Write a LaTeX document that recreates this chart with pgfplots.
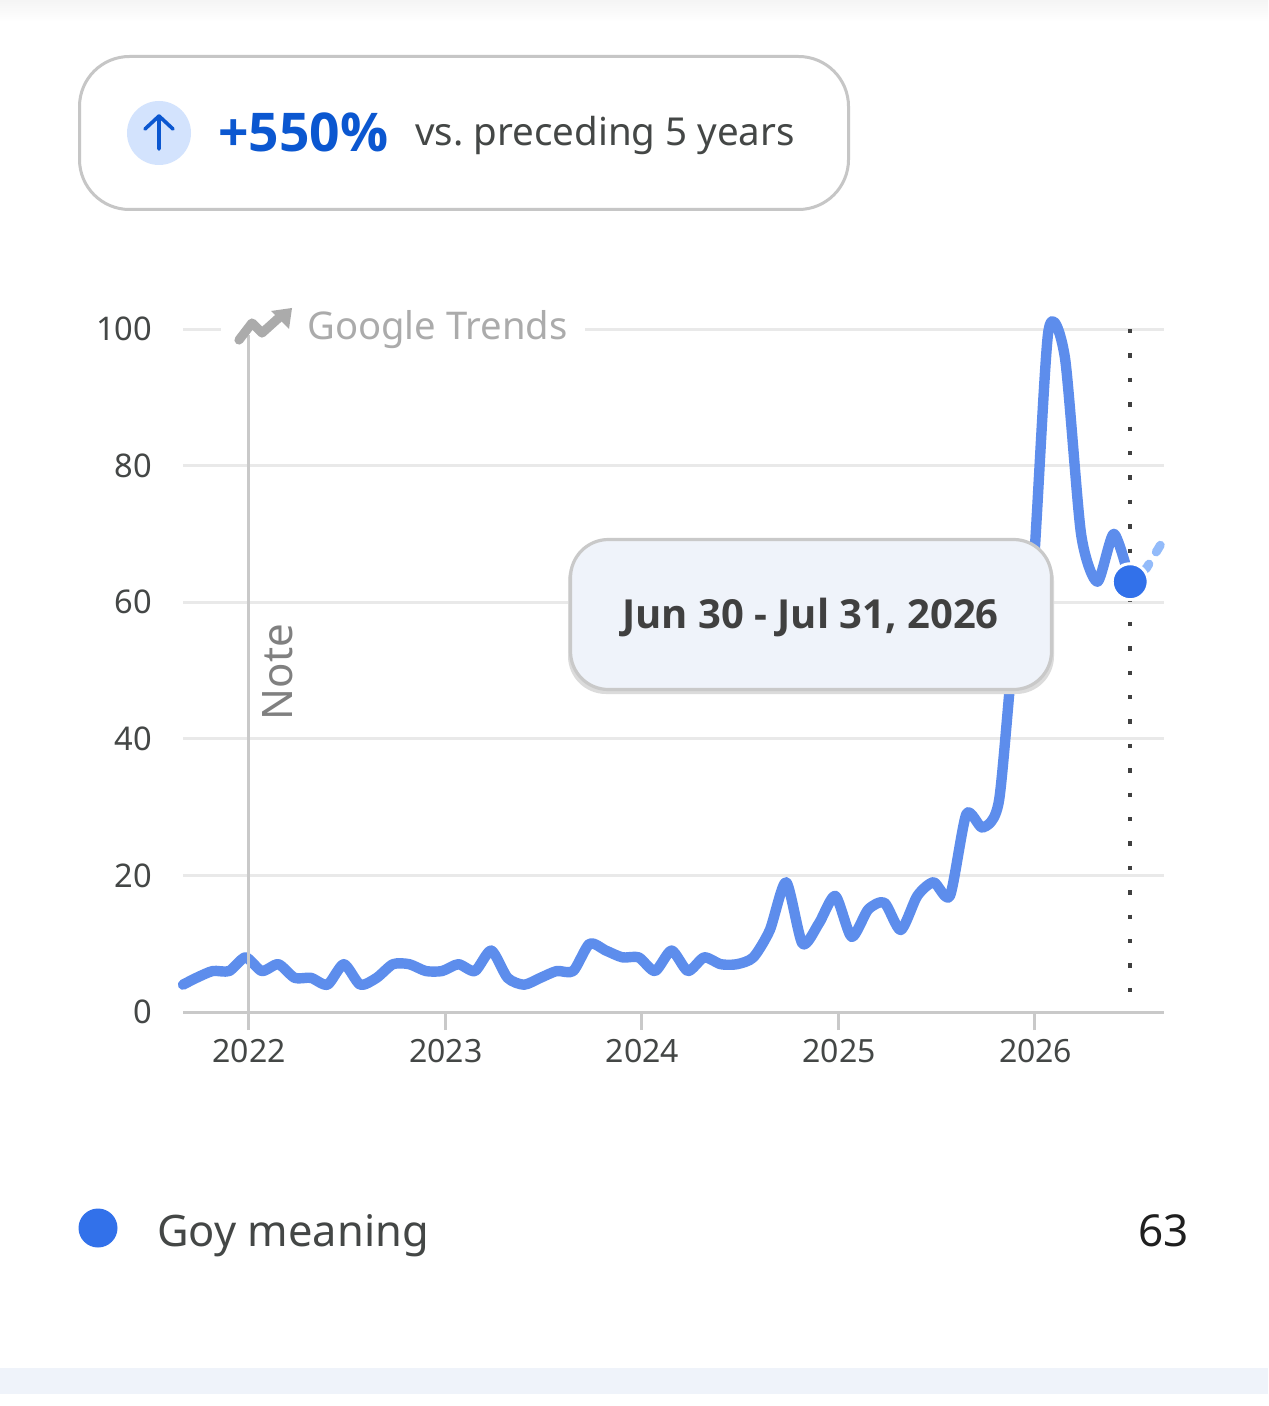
\documentclass[border=0pt]{standalone}
\usepackage{fontspec}
\setmainfont{Noto Sans}
\newfontfamily\bfam{Open Sans}
\usepackage{pgfplots}
\pgfplotsset{compat=1.18}
\definecolor{gridc}{HTML}{E9E9E9}
\definecolor{axisc}{HTML}{C9C9C9}
\definecolor{linec}{HTML}{5D8DEC}
\definecolor{dotc}{HTML}{3271EA}
\definecolor{dashc}{HTML}{93BBFA}
\definecolor{txt}{HTML}{444746}
\definecolor{gt}{HTML}{ABABAB}
\definecolor{tipbg}{HTML}{EFF3FA}
\definecolor{pillb}{HTML}{C6C6C6}
\definecolor{blueh}{HTML}{0B57D0}
\definecolor{circ}{HTML}{D3E3FD}
\pgfplotstableread{
x y
2021.667 4
2021.735 5
2021.818 6
2021.902 6
2021.985 8
2022.068 6
2022.152 7
2022.235 5
2022.318 5
2022.402 4
2022.485 7
2022.568 4
2022.652 5
2022.735 7
2022.818 7
2022.902 6
2022.985 6
2023.068 7
2023.152 6
2023.235 9
2023.318 5
2023.402 4
2023.485 5
2023.568 6
2023.652 6
2023.735 10
2023.818 9
2023.902 8
2023.985 8
2024.068 6
2024.152 9
2024.235 6
2024.318 8
2024.402 7
2024.485 7
2024.568 8
2024.652 12
2024.735 19
2024.818 10
2024.902 13
2024.985 17
2025.068 11
2025.152 15
2025.235 16
2025.318 12
2025.402 17
2025.485 19
2025.568 17
2025.652 29
2025.735 27
2025.818 31
2025.902 56
2025.985 62
2026.068 99.5
2026.152 96
2026.235 70
2026.318 63
2026.402 70
2026.485 63
}\trenddata
\pgfplotstableread{
x y
2026.485 63
2026.568 65
2026.652 69
}\partialdata
\newcommand{\fs}[1]{\fontsize{#1}{#1}\selectfont}
\frenchspacing
\begin{document}
\begin{tikzpicture}
\begin{scope}[x=0.5pt,y=-0.5pt]
\path[use as bounding box,fill=white] (0,0) rectangle (1268,1406);
\shade[top color=black!4,bottom color=white] (0,0) rectangle (1268,22);
\fill[tipbg] (0,1368) rectangle (1268,1394);
\draw[pillb,line width=1.5pt,rounded corners=25pt] (79.5,56.5) rectangle (848.5,209.5);
\fill[circ] (159,133) circle[radius=16pt];
\draw[blueh,line width=1.8pt,line cap=round,line join=round] (159,149) -- (159,116) (145,129) -- (159,116) -- (173,129);
\node[anchor=base west,inner sep=0,text=blueh] at (218,151.5) {\fs{26.7}\bfam\bfseries +550\%};
\node[anchor=base west,inner sep=0,text=txt] at (415,146) {\fs{19.25}vs. preceding 5 years};
\end{scope}
\begin{axis}[
  at={(91.5pt,-506pt)},anchor=south west,
  scale only axis,width=490.5pt,height=341.5pt,
  xmin=2021.667,xmax=2026.657,ymin=0,ymax=100,
  clip=false,
  axis lines=left,
  axis line style={-},
  y axis line style={draw=none},
  x axis line style={axisc,line width=1.5pt},
  xtick={2022,2023,2024,2025,2026},
  ytick={0,20,40,60,80,100},
  ymajorgrids,
  grid style={gridc,line width=1.5pt},
  xtick style={draw=axisc,line width=1.5pt},
  ytick style={draw=none},
  tick align=outside,
  major tick length=9pt,
  /pgf/number format/assume math mode=true,
  /pgf/number format/1000 sep={},
  xticklabel style={font=\fs{16},text=txt,yshift=-1pt,xshift=0.4pt},
  yticklabel style={font=\fs{16.3},text=txt,xshift=-3pt},
]
\addplot[linec,line width=5.2pt,smooth,tension=0.42,line cap=round,line join=round] table[x=x,y=y] {\trenddata};
\addplot[dashc,line width=4.4pt,line cap=round,dash pattern=on 4pt off 7pt,dash phase=-9pt] table[x=x,y=y] {\partialdata};
\addplot[axisc,line width=1.5pt,forget plot] coordinates {(2021.9985,0) (2021.9985,99)};
\addplot[black!75,line width=2.2pt,dash pattern=on 2.2pt off 10pt,forget plot] coordinates {(2026.485,100) (2026.485,3)};
\addplot[only marks,mark=*,mark size=9pt,mark options={fill=dotc,draw=white,line width=1.5pt}] coordinates {(2026.485,63)};
\end{axis}
\begin{scope}[x=0.5pt,y=-0.5pt]
\fill[white] (221,310) rectangle (585,345);
\draw[axisc,line width=1.5pt] (248,335) -- (248,360);
\draw[gt,line width=4.6pt,line join=round,line cap=round] (239,340) -- (252,323) -- (262,333) -- (282,315);
\fill[gt] (271,311) -- (292,308) -- (289,329) -- cycle;
\node[anchor=base west,inner sep=0,text=gt] at (307,340) {\fs{19.1}Google Trends};
\node[rotate=90,anchor=base,inner sep=0,text=black!50] at (292,672) {\fs{21}Note};
\fill[black!14,rounded corners=19pt] (568,543) rectangle (1054,694);
\draw[axisc,fill=tipbg,line width=1.6pt,rounded corners=19pt] (570.5,539.5) rectangle (1051.5,689.5);
\node[anchor=base,inner sep=0,text=black!75] at (810.5,628) {\fs{20}\bfam\bfseries Jun 30 - Jul 31, 2026};
\fill[dotc] (98,1228) circle[radius=9.75pt];
\node[anchor=base west,inner sep=0,text=txt] at (157,1246) {\fs{21.7}Goy meaning};
\node[anchor=base east,inner sep=0,text=black!88] at (1189,1246) {\fs{22}63};
\end{scope}
\end{tikzpicture}
\end{document}
